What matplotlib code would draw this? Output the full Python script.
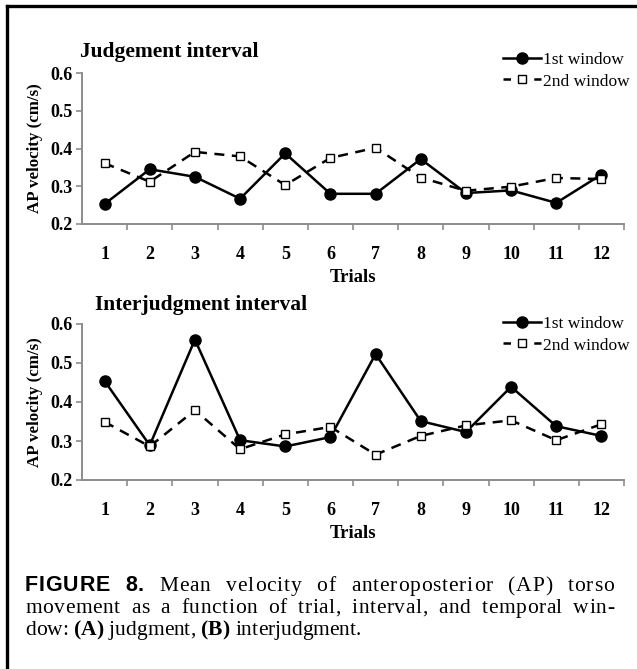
import matplotlib
matplotlib.use('Agg')
import matplotlib.pyplot as plt
from matplotlib.lines import Line2D
from matplotlib.ticker import FixedLocator

# data
trials = list(range(1, 13))
judg_first = [0.253, 0.345, 0.325, 0.267, 0.387, 0.280, 0.280, 0.372, 0.282, 0.289, 0.256, 0.331]
judg_second = [0.361, 0.312, 0.391, 0.379, 0.303, 0.375, 0.402, 0.323, 0.288, 0.299, 0.322, 0.319]
inter_first = [0.454, 0.289, 0.560, 0.302, 0.286, 0.310, 0.523, 0.351, 0.323, 0.439, 0.338, 0.313]
inter_second = [0.349, 0.286, 0.379, 0.279, 0.317, 0.336, 0.265, 0.313, 0.340, 0.353, 0.302, 0.343]
y_ticks = [0.2, 0.3, 0.4, 0.5, 0.6]
series_labels = ['1st window', '2nd window']

SERIF = 'Liberation Serif'
SANS = 'Liberation Sans'
AXIS_GRAY = '#8c8c8c'

W, H = 637, 669
fig = plt.figure(figsize=(W / 100, H / 100), dpi=100)
fig.patch.set_facecolor('white')
renderer = fig.canvas.get_renderer()


def px_axes(left, right, top, bottom):
    """Axes rectangle from pixel coordinates (origin top-left)."""
    return [left / W, 1 - bottom / H, (right - left) / W, (bottom - top) / H]


def draw_panel(ax, first, second, title, title_x, title_y, leg_y):
    ax.plot(trials, first, color='black', lw=1.8, marker='o', ms=8,
            mfc='black', mec='black', zorder=3)
    ax.plot(trials, second, color='black', lw=1.8, ls=(0, (4, 3)), marker='s',
            ms=6, mfc='white', mec='black', mew=1.0, zorder=4)
    ax.set_xlim(0.5, 12.5)
    ax.set_ylim(0.2, 0.6)
    for s in ['top', 'right']:
        ax.spines[s].set_visible(False)
    for s in ['left', 'bottom']:
        ax.spines[s].set_color(AXIS_GRAY)
        ax.spines[s].set_linewidth(1.4)
    ax.set_xticks(trials)
    ax.xaxis.set_minor_locator(FixedLocator([t + 0.5 for t in trials]))
    ax.tick_params(axis='x', which='major', length=0, pad=16)
    ax.tick_params(axis='x', which='minor', length=4, width=1.2, color=AXIS_GRAY, direction='out')
    ax.set_yticks(y_ticks)
    ax.set_yticklabels(['%.1f' % v for v in y_ticks])
    ax.tick_params(axis='y', length=4, width=1.2, color=AXIS_GRAY, direction='out', pad=3)
    for lab in ax.get_xticklabels() + ax.get_yticklabels():
        lab.set_fontfamily(SERIF)
        lab.set_fontweight('bold')
        lab.set_fontsize(13)
    ax.set_xlabel('Trials', fontfamily=SERIF, fontweight='bold', fontsize=13.5, labelpad=4)
    ax.set_ylabel('AP velocity (cm/s)', fontfamily=SERIF, fontweight='bold', fontsize=12.2, labelpad=5)
    fig.text(title_x / W, 1 - title_y / H, title, fontfamily=SERIF, fontweight='bold',
             fontsize=15.5, ha='left', va='center')
    # legend handles with their own dash so a dash sits either side of the square
    handles = [
        Line2D([], [], color='black', lw=1.8, marker='o', ms=8, mfc='black', mec='black'),
        Line2D([], [], color='black', lw=1.8, ls=(0, (3.0, 9.3)), marker='s', ms=6,
               mfc='white', mec='black', mew=1.0),
    ]
    ax.legend(handles, series_labels, loc='upper right', bbox_to_anchor=(630 / W, 1 - leg_y / H),
              bbox_transform=fig.transFigure, frameon=False, handlelength=2.2,
              handletextpad=0.15, labelspacing=0.3, borderpad=0, borderaxespad=0,
              prop={'family': SERIF, 'size': 12.5})


ax1 = fig.add_axes(px_axes(82, 624, 73, 224))
draw_panel(ax1, judg_first, judg_second, 'Judgement interval', 80, 52, 52)

ax2 = fig.add_axes(px_axes(82, 624, 324, 480))
draw_panel(ax2, inter_first, inter_second, 'Interjudgment interval', 95, 305, 316)

# frame around the figure (left and top edges visible)
fig.add_artist(Line2D([7 / W, 7 / W], [0, 1 - 6 / H], color='black', lw=2.4, transform=fig.transFigure))
fig.add_artist(Line2D([7 / W, 1], [1 - 6 / H, 1 - 6 / H], color='black', lw=2.4, transform=fig.transFigure))

# caption, justified like the journal layout (extra room split between letters and words)
CAP_SIZE = 15.5
serif = {'fontfamily': SERIF, 'fontsize': CAP_SIZE}
serif_b = {'fontfamily': SERIF, 'fontsize': CAP_SIZE, 'fontweight': 'bold'}
sans_b = {'fontfamily': SANS, 'fontsize': CAP_SIZE, 'fontweight': 'bold'}
caption_lines = [
    ([('FIGURE', sans_b), ('8.', sans_b)] +
     [(w, serif) for w in 'Mean velocity of anteroposterior (AP) torso'.split()], True),
    ([(w, serif) for w in 'movement as a function of trial, interval, and temporal win-'.split()], True),
    ([('dow:', serif), ('(A)', serif_b), ('judgment,', serif), ('(B)', serif_b),
      ('interjudgment.', serif)], False),
]
caption_baselines = [591, 613, 635]
cap_left, cap_right = 25, 614
space_px = CAP_SIZE * 0.25 * 100 / 72


def prefix_widths(word, props):
    probe = fig.text(0, 0, '', **props)
    out = []
    for i in range(len(word) + 1):
        probe.set_text(word[:i])
        out.append(probe.get_window_extent(renderer).width if i else 0.0)
    probe.remove()
    return out


for (words, justify), base in zip(caption_lines, caption_baselines):
    prefs = [prefix_widths(w, kw) for w, kw in words]
    natural = sum(p[-1] for p in prefs) + space_px * (len(words) - 1)
    extra = (cap_right - cap_left - natural) if justify else 0.0
    letter_gaps = sum(len(w) - 1 for w, _ in words)
    track = 0.3 * extra / letter_gaps
    gap = space_px + 0.7 * extra / (len(words) - 1)
    x = cap_left
    yf = 1 - base / H
    for (w, kw), p in zip(words, prefs):
        for i, ch in enumerate(w):
            fig.text((x + p[i] + i * track) / W, yf, ch, va='baseline', ha='left', **kw)
        x += p[-1] + (len(w) - 1) * track + gap

fig.savefig('out.png', dpi=100)
